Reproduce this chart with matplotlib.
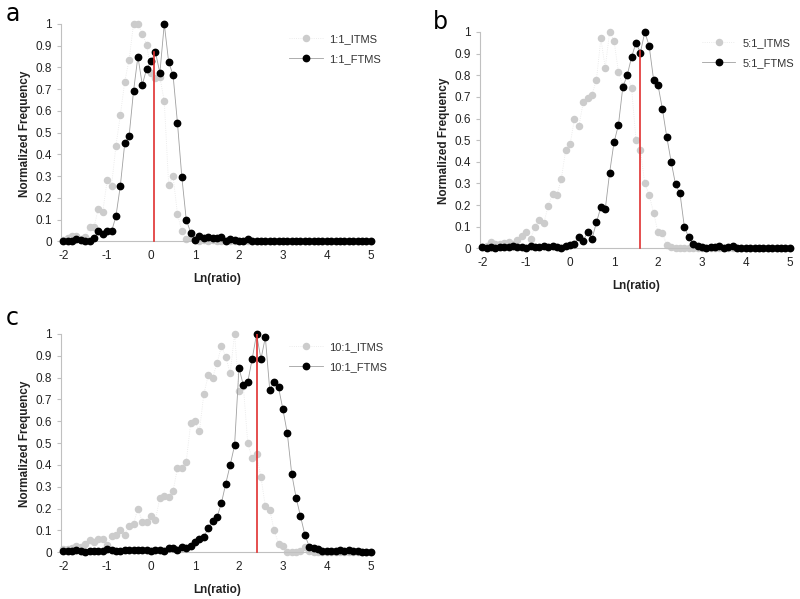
import matplotlib
matplotlib.use('Agg')
from matplotlib import pyplot as plt

# bin centres, Ln(ratio) from -2 to 5 in 0.1 steps
ln_ratio = [round(-2 + 0.1 * i, 1) for i in range(71)]
x_ticks = [-2, -1, 0, 1, 2, 3, 4, 5]
y_ticks = [0, 0.1, 0.2, 0.3, 0.4, 0.5, 0.6, 0.7, 0.8, 0.9, 1]
y_tick_labels = ['0', '0.1', '0.2', '0.3', '0.4', '0.5', '0.6', '0.7', '0.8', '0.9', '1']

# panel a, 1:1
itms_1 = [0.005, 0.015, 0.025, 0.025, 0.01, 0.02, 0.065, 0.065, 0.15, 0.135,
          0.28, 0.255, 0.44, 0.58, 0.735, 0.835, 1.0, 1.0, 0.955, 0.905,
          0.775, 0.75, 0.755, 0.645, 0.26, 0.3, 0.125, 0.045, 0.01, 0.02,
          0.005, 0.0, 0.005, 0.0, 0.005, 0.0, 0.0, 0.0, 0.0, 0.0,
          0.0, 0.0, 0.0, 0.0, 0.0, 0.0, 0.0, 0.0, 0.0, 0.0,
          0.0, 0.0, 0.0, 0.0, 0.0, 0.0, 0.0, 0.0, 0.0, 0.0,
          0.0, 0.0, 0.0, 0.0, 0.0, 0.0, 0.0, 0.0, 0.0, 0.0, 0.0]
ftms_1 = [0.0, 0.0, 0.0, 0.01, 0.005, 0.0, 0.0, 0.015, 0.045, 0.035,
          0.045, 0.045, 0.115, 0.255, 0.45, 0.485, 0.69, 0.85, 0.72, 0.795,
          0.83, 0.87, 0.775, 1.0, 0.825, 0.765, 0.545, 0.295, 0.1, 0.04,
          0.005, 0.025, 0.015, 0.02, 0.015, 0.015, 0.02, 0.0, 0.01, 0.005,
          0.0, 0.0, 0.01, 0.0, 0.0, 0.0, 0.0, 0.0, 0.0, 0.0,
          0.0, 0.0, 0.0, 0.0, 0.0, 0.0, 0.0, 0.0, 0.0, 0.0,
          0.0, 0.0, 0.0, 0.0, 0.0, 0.0, 0.0, 0.0, 0.0, 0.0, 0.0]

# panel b, 5:1
itms_5 = [0.005, 0.01, 0.03, 0.02, 0.02, 0.025, 0.03, 0.02, 0.04, 0.055,
          0.075, 0.045, 0.1, 0.13, 0.115, 0.195, 0.25, 0.245, 0.32, 0.455,
          0.48, 0.6, 0.565, 0.675, 0.695, 0.71, 0.78, 0.97, 0.835, 1.0,
          0.96, 0.815, 0.75, 0.8, 0.74, 0.5, 0.455, 0.3, 0.245, 0.165,
          0.075, 0.07, 0.015, 0.005, 0.0, 0.0, 0.0, 0.0, 0.0, 0.0,
          0.0, 0.0, 0.0, 0.0, 0.0, 0.0, 0.0, 0.0, 0.0, 0.0,
          0.0, 0.0, 0.0, 0.0, 0.0, 0.0, 0.0, 0.0, 0.0, 0.0, 0.0]
ftms_5 = [0.005, 0.0, 0.005, 0.0, 0.005, 0.005, 0.005, 0.01, 0.005, 0.005,
          0.0, 0.01, 0.005, 0.005, 0.01, 0.005, 0.01, 0.005, 0.0, 0.01,
          0.015, 0.02, 0.05, 0.035, 0.075, 0.045, 0.12, 0.19, 0.18, 0.35,
          0.49, 0.57, 0.745, 0.8, 0.885, 0.95, 0.905, 1.0, 0.935, 0.78,
          0.755, 0.645, 0.515, 0.4, 0.295, 0.255, 0.1, 0.05, 0.02, 0.01,
          0.005, 0.0, 0.005, 0.005, 0.01, 0.0, 0.005, 0.01, 0.0, 0.0,
          0.0, 0.0, 0.0, 0.0, 0.0, 0.0, 0.0, 0.0, 0.0, 0.0, 0.0]

# panel c, 10:1
itms_10 = [0.015, 0.015, 0.02, 0.03, 0.025, 0.04, 0.055, 0.045, 0.06, 0.06,
           0.035, 0.075, 0.08, 0.1, 0.08, 0.12, 0.13, 0.2, 0.14, 0.14,
           0.165, 0.15, 0.25, 0.26, 0.255, 0.28, 0.385, 0.385, 0.415, 0.59,
           0.6, 0.555, 0.725, 0.81, 0.8, 0.865, 0.945, 0.895, 0.82, 1.0,
           0.74, 0.76, 0.5, 0.43, 0.45, 0.345, 0.21, 0.195, 0.1, 0.04,
           0.03, 0.0, 0.0, 0.0, 0.005, 0.025, 0.005, 0.0, 0.0, 0.0,
           0.0, 0.0, 0.0, 0.0, 0.0, 0.0, 0.0, 0.0, 0.0, 0.0, 0.0]
ftms_10 = [0.005, 0.005, 0.005, 0.01, 0.005, 0.0, 0.005, 0.005, 0.005, 0.005,
           0.015, 0.01, 0.005, 0.005, 0.01, 0.01, 0.01, 0.01, 0.01, 0.01,
           0.005, 0.01, 0.01, 0.005, 0.02, 0.02, 0.01, 0.025, 0.02, 0.03,
           0.045, 0.06, 0.07, 0.11, 0.145, 0.16, 0.225, 0.315, 0.4, 0.49,
           0.845, 0.765, 0.78, 0.885, 1.0, 0.885, 0.985, 0.745, 0.78, 0.755,
           0.655, 0.545, 0.36, 0.25, 0.165, 0.08, 0.025, 0.02, 0.015, 0.005,
           0.005, 0.005, 0.005, 0.01, 0.005, 0.01, 0.005, 0.005, 0.0, 0.0, 0.0]

panel_letters = ['a', 'b', 'c']
legend_names = [('1:1_ITMS', '1:1_FTMS'), ('5:1_ITMS', '5:1_FTMS'), ('10:1_ITMS', '10:1_FTMS')]
red_x = [0.07, 1.58, 2.4]
red_top = [0.87, 0.91, 1.0]

plt.rcParams['font.family'] = ['Liberation Sans', 'DejaVu Sans']
plt.rcParams['axes.unicode_minus'] = False

W, H = 800, 599
fig = plt.figure(figsize=(8, 5.99), dpi=100)

# axes boxes in pixels: left, top, right, bottom (data frame -2..5, 0..1)
boxes = [(61, 24, 373, 243), (480, 32, 792, 250), (61, 334, 373, 554)]
letter_pos = [(6, 26), (433, 34), (6, 330)]
legend_anchor = [(0.7, 1.0), (0.68, 1.02), (0.7, 1.01)]

series = [(itms_1, ftms_1), (itms_5, ftms_5), (itms_10, ftms_10)]

for i in range(3):
    l, t, r, b = boxes[i]
    ax = fig.add_axes([l / W, 1 - b / H, (r - l) / W, (b - t) / H])
    itms, ftms = series[i]
    ax.plot(ln_ratio, itms, color='#e6e6e6', lw=0.6, ls=':', marker='o',
            markersize=4.4, markerfacecolor='#cccccc', markeredgecolor='#cccccc',
            label=legend_names[i][0], zorder=2, clip_on=False)
    ax.plot(ln_ratio, ftms, color='#a0a0a0', lw=0.6, marker='o',
            markersize=4.6, markerfacecolor='black', markeredgecolor='black',
            label=legend_names[i][1], zorder=3, clip_on=False)
    ax.plot([red_x[i], red_x[i]], [0, red_top[i]], color='#e03030', lw=1.2, zorder=4)

    ax.set_xlim(-2.05, 5.05)
    ax.set_ylim(-0.008, 1.0)
    ax.set_xticks(x_ticks)
    ax.set_yticks(y_ticks)
    ax.set_yticklabels(y_tick_labels)
    for s in ['top', 'right']:
        ax.spines[s].set_visible(False)
    for s in ['left', 'bottom']:
        ax.spines[s].set_color('#c0c0c0')
        ax.spines[s].set_linewidth(0.8)
    ax.spines['left'].set_bounds(0, 1)
    ax.spines['bottom'].set_position(('data', 0))
    ax.spines['bottom'].set_bounds(-2.05, 5.05)
    ax.tick_params(axis='both', colors='#c0c0c0', labelcolor='#222222',
                   labelsize=8.5, length=3, width=0.8, direction='out')
    ax.tick_params(axis='x', length=0, pad=6)
    ax.set_xlabel('Ln(ratio)', fontsize=8.5, fontweight='bold', color='#222222', labelpad=8)
    ax.set_ylabel('Normalized Frequency', fontsize=8.5, fontweight='bold', color='#222222', labelpad=3)
    ax.legend(loc='upper left', bbox_to_anchor=legend_anchor[i], frameon=False,
              fontsize=8, handlelength=3, handletextpad=0.6, labelspacing=0.9,
              labelcolor='#333333')
    fig.text(letter_pos[i][0] / W, 1 - letter_pos[i][1] / H, panel_letters[i],
             fontsize=17, family='DejaVu Sans', va='bottom', ha='left')

fig.savefig('out.png', dpi=100)
